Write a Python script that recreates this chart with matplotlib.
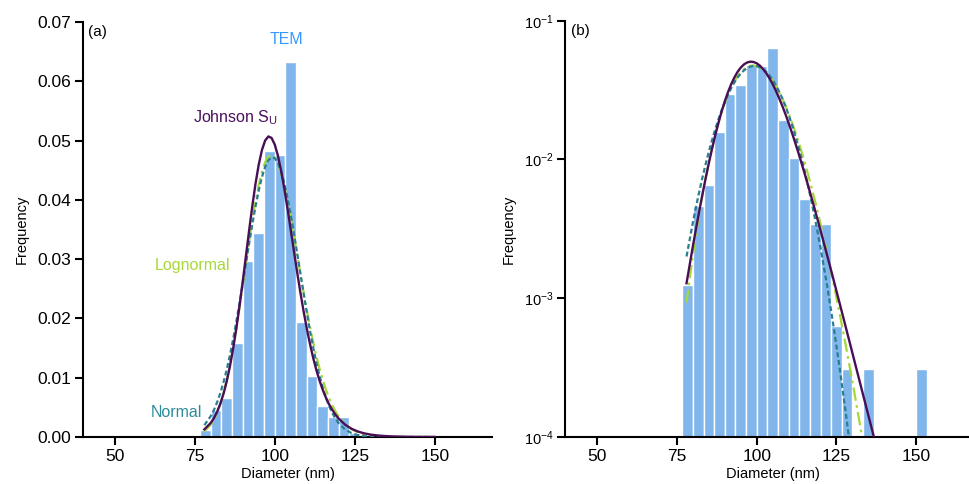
import numpy as np
import matplotlib
matplotlib.use("Agg")
import matplotlib.pyplot as plt
from matplotlib.ticker import FixedLocator, NullLocator

plt.rcParams['font.family'] = ['Liberation Sans', 'DejaVu Sans']
plt.rcParams['mathtext.fontset'] = 'custom'
plt.rcParams['mathtext.rm'] = 'Liberation Sans'
plt.rcParams['mathtext.it'] = 'Liberation Sans'

# ---- TEM histogram (bin edges in nm, frequency density) ----
bin_edges = [76.67, 80.0, 83.33, 86.67, 90.0, 93.33, 96.67, 100.0, 103.33, 106.67, 110.0,
             113.33, 116.67, 120.0, 123.33, 126.67, 130.0, 133.33, 136.67, 140.0, 143.33,
             146.67, 150.0, 153.33]
tem_freq = [0.00125, 0.0046, 0.0065, 0.0159, 0.0297, 0.0344, 0.0482, 0.0475, 0.0632, 0.0194,
            0.0103, 0.0052, 0.0034, 0.0034, 0.00063, 0.00031, 0.0, 0.00031, 0.0, 0.0, 0.0,
            0.0, 0.00031]

# ---- fitted curves ----
curve_x = [78, 80, 81, 82, 83, 84, 85, 86, 87, 88, 89, 90, 91, 92, 93, 94, 95, 96, 97, 98,
           99, 100, 101, 102, 103, 104, 105, 106, 107, 108, 109, 110, 111, 112, 113, 114,
           115, 116, 117, 118, 119, 120, 122, 124, 126, 128, 130, 132, 134, 136, 138, 140,
           142, 144, 146, 148, 150]
johnson_pdf = [0.001282, 0.002378, 0.003199, 0.004263, 0.005621, 0.007325, 0.009422, 0.01195,
               0.01492, 0.01834, 0.02214, 0.02626, 0.03055, 0.03487, 0.039, 0.04277, 0.04596,
               0.04842, 0.05002, 0.0507, 0.05045, 0.04933, 0.04743, 0.04489, 0.04185, 0.03848,
               0.03493, 0.03133, 0.0278, 0.02441, 0.02125, 0.01834, 0.01571, 0.01336, 0.0113,
               0.009501, 0.007951, 0.006625, 0.005498, 0.004548, 0.00375, 0.003085, 0.002073,
               0.001384, 0.0009199, 0.0006094, 0.000403, 0.0002664, 0.0001761, 0.0001165,
               7.724e-05, 5.131e-05, 3.417e-05, 2.282e-05, 1.528e-05, 1.027e-05, 6.926e-06]
normal_pdf = [0.001999, 0.003525, 0.004583, 0.005876, 0.00743, 0.009264, 0.01139, 0.01381,
              0.01651, 0.01946, 0.02262, 0.02593, 0.02931, 0.03267, 0.03591, 0.03893, 0.0416,
              0.04385, 0.04557, 0.0467, 0.04719, 0.04703, 0.04621, 0.04478, 0.04278, 0.04031,
              0.03745, 0.03432, 0.031, 0.02762, 0.02426, 0.02102, 0.01795, 0.01512, 0.01256,
              0.01029, 0.008311, 0.006619, 0.005199, 0.004026, 0.003075, 0.002315, 0.001259,
              0.0006474, 0.0003147, 0.0001447, 6.287e-05, 2.583e-05, 1.004e-05, 3.688e-06,
              1.281e-06, 4.207e-07, 1.307e-07, 3.836e-08, 1.065e-08, 2.796e-09, 6.939e-10]
lognormal_pdf = [0.0009269, 0.002055, 0.002938, 0.004096, 0.00557, 0.007396, 0.009596, 0.01218,
                 0.01512, 0.01839, 0.02191, 0.02561, 0.02937, 0.03307, 0.03658, 0.03978,
                 0.04254, 0.04476, 0.04637, 0.04732, 0.04757, 0.04715, 0.0461, 0.04446,
                 0.04233, 0.03979, 0.03695, 0.0339, 0.03074, 0.02757, 0.02446, 0.02146,
                 0.01864, 0.01603, 0.01365, 0.01152, 0.009623, 0.007971, 0.006544, 0.005328,
                 0.004301, 0.003445, 0.002159, 0.001313, 0.0007765, 0.0004471, 0.000251,
                 0.0001375, 7.366e-05, 3.861e-05, 1.982e-05, 9.978e-06, 4.93e-06, 2.393e-06,
                 1.142e-06, 5.366e-07, 2.482e-07]

x_ticks = [50, 75, 100, 125, 150]
lin_ticks = [0.0, 0.01, 0.02, 0.03, 0.04, 0.05, 0.06, 0.07]
log_ticks = [1e-4, 1e-3, 1e-2, 1e-1]
log_labels = [r'$\mathregular{10^{-4}}$', r'$\mathregular{10^{-3}}$',
              r'$\mathregular{10^{-2}}$', r'$\mathregular{10^{-1}}$']

C_BAR = '#80B6EC'
C_J = '#4A0E57'
C_L = '#A6D83A'
C_N = '#2A7F8F'

fig = plt.figure(figsize=(9.7, 4.84), dpi=100)
axa = fig.add_axes([0.0853, 0.0971, 0.4223, 0.8574])
axb = fig.add_axes([0.5828, 0.0971, 0.4275, 0.8601])

edges = np.array(bin_edges)
freq = np.array(tem_freq)
widths = np.diff(edges)


def draw(ax, log):
    m = freq > 0 if log else np.ones_like(freq, bool)
    ax.bar(edges[:-1][m], freq[m], width=widths[m], align='edge', color=C_BAR,
           edgecolor='white', linewidth=1.0, zorder=1)
    ax.plot(curve_x, lognormal_pdf, color=C_L, lw=1.6, ls=(0, (6, 2, 1.2, 2)), zorder=2)
    ax.plot(curve_x, normal_pdf, color=C_N, lw=1.6, ls=(0, (2.2, 1.3)), zorder=3)
    ax.plot(curve_x, johnson_pdf, color=C_J, lw=1.7, zorder=4)
    for s in ('top', 'right'):
        ax.spines[s].set_visible(False)
    for s in ('left', 'bottom'):
        ax.spines[s].set_linewidth(1.5)
    ax.tick_params(direction='out', length=5.5, width=1.5, labelsize=12.5, pad=3)
    ax.set_xticks(x_ticks)
    ax.set_xlabel('Diameter (nm)', fontsize=10.5, labelpad=2)
    ax.set_ylabel('Frequency', fontsize=10.5, labelpad=6)


draw(axa, False)
axa.set_xlim(40, 168)
axa.set_ylim(0, 0.07)
axa.set_yticks(lin_ticks)
axa.set_yticklabels(['%.2f' % v for v in lin_ticks])
axa.text(0.014, 0.977, '(a)', transform=axa.transAxes, fontsize=11, va='center', ha='left')
axa.text(103.6, 0.067, 'TEM', color='#3399FF', fontsize=11.5, ha='center', va='center')
axa.text(101.1, 0.0538, r'Johnson S$_\mathregular{U}$', color='#4B1060', fontsize=11.5,
         ha='right', va='center')
axa.text(62.6, 0.029, 'Lognormal', color='#A8D839', fontsize=11.5, ha='left', va='center')
axa.text(61.1, 0.00417, 'Normal', color='#2F8C9A', fontsize=11.5, ha='left', va='center')

draw(axb, True)
axb.set_yscale('log')
axb.set_xlim(40, 170)
axb.set_ylim(1e-4, 1e-1)
axb.yaxis.set_major_locator(FixedLocator(log_ticks))
axb.yaxis.set_minor_locator(NullLocator())
axb.set_yticklabels(log_labels, fontsize=10.5)
axb.text(0.014, 0.975, '(b)', transform=axb.transAxes, fontsize=11, va='center', ha='left')

fig.savefig('out.png', dpi=100)
